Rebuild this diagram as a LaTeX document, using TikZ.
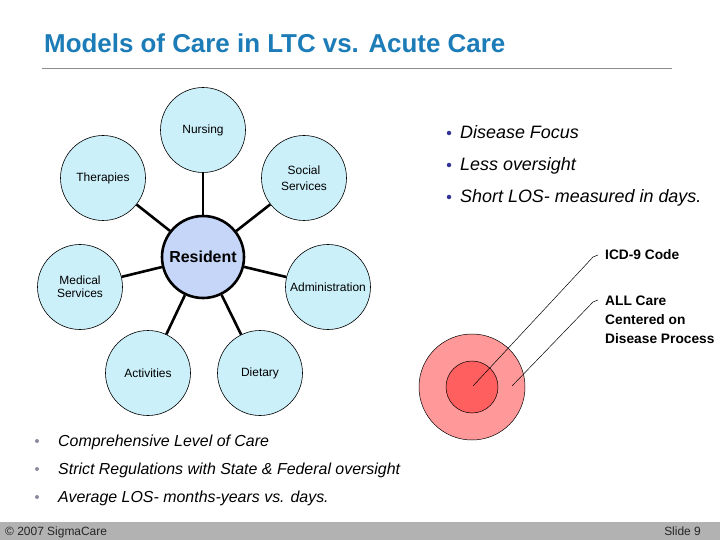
\documentclass[tikz,border=0pt]{standalone}
\usepackage{fontspec}
\setmainfont{Liberation Sans}
\definecolor{titleblue}{RGB}{28,124,184}
\definecolor{outerfill}{RGB}{204,240,250}
\definecolor{resfill}{RGB}{198,214,248}
\definecolor{redout}{RGB}{255,153,153}
\definecolor{redin}{RGB}{255,95,95}
\definecolor{bulblue}{RGB}{51,51,153}
\definecolor{bulgray}{RGB}{140,140,160}
\definecolor{footgray}{RGB}{178,178,178}
\tikzset{
  x=1bp, y=-1bp,
  outer/.style={circle, draw=black, line width=0.6bp, fill=outerfill, minimum size=85bp, inner sep=0pt, align=center, font=\fontsize{12}{13.5}\selectfont},
  res/.style={circle, draw=black, line width=2.6bp, fill=resfill, minimum size=82bp, inner sep=0pt, font=\fontsize{16}{18}\selectfont\bfseries},
  spoke/.style={line width=2.6bp},
  rbul/.style={anchor=base west, font=\fontsize{18}{20}\selectfont\itshape, inner sep=0pt},
  bbul/.style={anchor=base west, font=\fontsize{16}{18}\selectfont\itshape, inner sep=0pt},
  callout/.style={anchor=north west, font=\fontsize{13.8}{19}\selectfont\bfseries, inner sep=0pt, align=left},
  leader/.style={line width=0.5bp},
}
\begin{document}
\begin{tikzpicture}
\useasboundingbox (0,0) rectangle (720,540);
\fill[white] (0,0) rectangle (720,540);
% title
\node[anchor=base west, inner sep=0pt, text=titleblue, font=\fontsize{26}{30}\selectfont\bfseries] (title) at (44,53) {Models of Care in LTC vs. Acute Care};
\draw[line width=1bp, color=black!45] (42,69) coordinate (ruleA) -- (672,69) coordinate (ruleB);
% resident diagram
\node[res] (res) at (203,257) {Resident};
\node[outer] (nurs) at (203,130) {Nursing};
\node[outer] (soc) at (304,178) {Social\\[2.5pt]Services};
\node[outer] (ther) at (103,178) {Therapies};
\node[outer] (med) at (80,287) {Medical\\Services};
\node[outer] (adm) at (328,287) {Administration};
\node[outer] (act) at (148,373) {Activities};
\node[outer] (diet) at (260,373) {Dietary};
\foreach \n in {nurs,soc,ther,med,adm,act,diet}{\draw[spoke] (res) -- (\n);}
% right bullets
\foreach \y/\t/\nm in {139/Disease Focus/r1,171/Less oversight/r2,203/Short LOS- measured in days./r3}{
  \node[circle, fill=bulblue, inner sep=0pt, minimum size=4.5bp] (\nm b) at (449,\y-6) {};
  \node[rbul] (\nm) at (460,\y) {\t};
}
% red circles
\node[circle, draw=black, line width=0.5bp, fill=redout, minimum size=106bp, inner sep=0pt] (outred) at (472,387) {};
\node[circle, draw=black, line width=0.5bp, fill=redin, minimum size=52bp, inner sep=0pt] (inred) at (472,387) {};
\coordinate (p1) at (473,386);
\coordinate (p2) at (512,386);
\coordinate (k1) at (593,257);
\coordinate (k2) at (593,302);
\node[callout] (icd) at (605,249) {ICD-9 Code};
\node[callout] (all) at (605,296) {ALL Care\\Centered on\\Disease Process};
\draw[leader] (p1) -- (k1) -- (598,255);
\draw[leader] (p2) -- (k2) -- (598,300);
% bottom bullets
\foreach \y/\t/\nm in {446/Comprehensive Level of Care/b1,474/Strict Regulations with State \& Federal oversight/b2,502/Average LOS- months-years vs. days./b3}{
  \node[circle, fill=bulgray, inner sep=0pt, minimum size=4bp] (\nm b) at (37,\y-5) {};
  \node[bbul] (\nm) at (58,\y) {\t};
}
% footer
\fill[footgray] (0,522) rectangle (720,540);
\node[anchor=base west, inner sep=0pt, font=\fontsize{12}{14}\selectfont, text=black!85] (copy) at (5,535.5) {© 2007 SigmaCare};
\node[anchor=base east, inner sep=0pt, font=\fontsize{12}{14}\selectfont, text=black!85] (slide) at (701,535.5) {Slide 9};
\end{tikzpicture}
\end{document}
